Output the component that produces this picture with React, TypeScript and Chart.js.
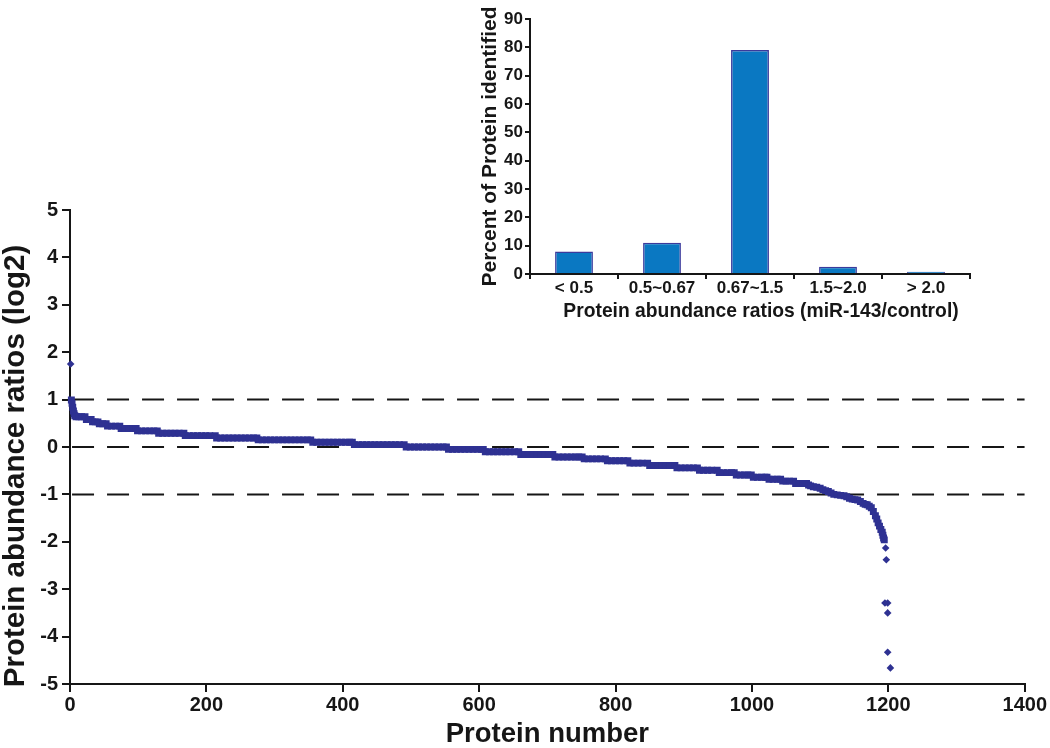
import React, { useEffect, useRef } from "react";
import { Chart, registerables } from "chart.js";

Chart.register(...registerables);

const FONT = "'Liberation Sans', Arial, Helvetica, sans-serif";
const INK = "#161616";
const POINT_COLOR = "#2E3192";
const BAR_FILL = "#0A78C2";
const BAR_EDGE = "#3B3A9C";

// ---- Main scatter: sorted protein abundance ratios (log2) ----
// dense, continuous part of the sorted curve
const bandProteinNumber: number[] = [
  2, 3, 4, 5, 6, 7,
  9, 13, 17, 22,
  24, 28, 31,
  33, 37, 41,
  43, 48, 53,
  55, 61, 67, 73,
  75, 81, 87, 92, 97,
  99, 105, 111, 117, 123, 128,
  130, 136, 142, 148, 154, 160, 167,
  169, 175, 181, 187, 193, 199, 205, 213,
  215, 221, 227, 233, 239, 245, 251, 257, 263, 269, 274,
  276, 282, 288, 294, 300, 306, 312, 318, 324, 330, 336, 342, 348, 353,
  356, 362, 368, 374, 380, 386, 392, 398, 404, 410, 414,
  417, 423, 429, 435, 441, 447, 453, 459, 465, 471, 477, 483, 490,
  493, 499, 505, 511, 517, 523, 529, 535, 541, 547, 552,
  555, 561, 567, 573, 579, 585, 591, 597, 603, 606,
  609, 615, 621, 627, 633, 639, 645, 652, 658,
  661, 667, 673, 679, 685, 691, 697, 703, 708,
  711, 717, 723, 729, 735, 741, 746, 751,
  754, 760, 766, 772, 778, 785,
  788, 794, 800, 806, 812, 818,
  821, 827, 833, 839, 847,
  850, 856, 862, 868, 874, 880, 887,
  890, 896, 902, 908, 914, 920,
  923, 929, 935, 941, 949,
  952, 958, 964, 970, 974,
  977, 983, 989, 994, 999,
  1002, 1008, 1014, 1019, 1022,
  1025, 1031, 1037, 1042,
  1045, 1050, 1055, 1061,
  1064, 1069, 1075, 1080,
  1083, 1086, 1090, 1095, 1100, 1104, 1108, 1112,
  1116, 1120, 1125, 1130, 1135, 1139, 1143, 1147,
  1151, 1155, 1159, 1163, 1166, 1169, 1172, 1175,
  1178, 1181, 1183, 1185, 1187, 1189, 1191, 1192, 1193, 1194,
];

const bandRatio: number[] = [
  0.99, 0.92, 0.84, 0.76, 0.7, 0.66,
  0.64, 0.64, 0.64, 0.64,
  0.58, 0.58, 0.58,
  0.53, 0.53, 0.53,
  0.49, 0.49, 0.49,
  0.44, 0.44, 0.44, 0.44,
  0.39, 0.39, 0.39, 0.39, 0.39,
  0.34, 0.34, 0.34, 0.34, 0.34, 0.34,
  0.29, 0.29, 0.29, 0.29, 0.29, 0.29, 0.29,
  0.24, 0.24, 0.24, 0.24, 0.24, 0.24, 0.24, 0.24,
  0.19, 0.19, 0.19, 0.19, 0.19, 0.19, 0.19, 0.19, 0.19, 0.19, 0.19,
  0.15, 0.15, 0.15, 0.15, 0.15, 0.15, 0.15, 0.15, 0.15, 0.15, 0.15, 0.15, 0.15, 0.15,
  0.1, 0.1, 0.1, 0.1, 0.1, 0.1, 0.1, 0.1, 0.1, 0.1, 0.1,
  0.05, 0.05, 0.05, 0.05, 0.05, 0.05, 0.05, 0.05, 0.05, 0.05, 0.05, 0.05, 0.05,
  0.0, 0.0, 0.0, 0.0, 0.0, 0.0, 0.0, 0.0, 0.0, 0.0, 0.0,
  -0.05, -0.05, -0.05, -0.05, -0.05, -0.05, -0.05, -0.05, -0.05, -0.05,
  -0.1, -0.1, -0.1, -0.1, -0.1, -0.1, -0.1, -0.1, -0.1,
  -0.16, -0.16, -0.16, -0.16, -0.16, -0.16, -0.16, -0.16, -0.16,
  -0.21, -0.21, -0.21, -0.21, -0.21, -0.21, -0.21, -0.21,
  -0.25, -0.25, -0.25, -0.25, -0.25, -0.25,
  -0.29, -0.29, -0.29, -0.29, -0.29, -0.29,
  -0.34, -0.34, -0.34, -0.34, -0.34,
  -0.39, -0.39, -0.39, -0.39, -0.39, -0.39, -0.39,
  -0.44, -0.44, -0.44, -0.44, -0.44, -0.44,
  -0.49, -0.49, -0.49, -0.49, -0.49,
  -0.54, -0.54, -0.54, -0.54, -0.54,
  -0.59, -0.59, -0.59, -0.59, -0.59,
  -0.64, -0.64, -0.64, -0.64, -0.64,
  -0.68, -0.68, -0.68, -0.68,
  -0.72, -0.72, -0.72, -0.72,
  -0.77, -0.77, -0.77, -0.77,
  -0.8, -0.82, -0.84, -0.85, -0.87, -0.9, -0.92, -0.94,
  -0.97, -1.0, -1.01, -1.02, -1.03, -1.05, -1.08, -1.1,
  -1.11, -1.12, -1.15, -1.19, -1.21, -1.22, -1.25, -1.28,
  -1.36, -1.45, -1.52, -1.6, -1.67, -1.74, -1.8, -1.86, -1.92, -1.96,
];

// isolated points at both ends of the curve
const isolatedProteinNumber: number[] = [1, 1196, 1197, 1195, 1199, 1199, 1199, 1203];
const isolatedRatio: number[] = [1.75, -2.13, -2.38, -3.29, -3.29, -3.5, -4.33, -4.66];

const thresholdLines: number[] = [1, 0, -1];
const xTickValues: number[] = [0, 200, 400, 600, 800, 1000, 1200, 1400];
const yTickValues: number[] = [-5, -4, -3, -2, -1, 0, 1, 2, 3, 4, 5];
const MAIN_X_TITLE = "Protein number";
const MAIN_Y_TITLE = "Protein abundance ratios (log2)";

// ---- Inset bar chart ----
const ratioBins: string[] = ["< 0.5", "0.5~0.67", "0.67~1.5", "1.5~2.0", "> 2.0"];
const percentIdentified: number[] = [7.9, 11.0, 79.1, 2.6, 0.8];
const insetYTicks: number[] = [0, 10, 20, 30, 40, 50, 60, 70, 80, 90];
const INSET_X_TITLE = "Protein abundance ratios (miR-143/control)";
const INSET_Y_TITLE = "Percent of Protein identified";

const bold = (size: number, lineHeight = 1.2) => ({ family: FONT, size, weight: "bold" as const, lineHeight });

const drawText = (ctx: CanvasRenderingContext2D, text: string, x: number, y: number, size: number, rotate: boolean) => {
  ctx.save();
  ctx.translate(x, y);
  if (rotate) ctx.rotate(-Math.PI / 2);
  ctx.font = `bold ${size}px ${FONT}`;
  ctx.fillStyle = INK;
  ctx.textAlign = "center";
  ctx.textBaseline = "middle";
  ctx.fillText(text, 0, 0);
  ctx.restore();
};

export default function App() {
  const mainRef = useRef<HTMLCanvasElement | null>(null);
  const insetRef = useRef<HTMLCanvasElement | null>(null);

  useEffect(() => {
    Chart.defaults.font.family = FONT;
    Chart.defaults.color = INK;

    const bandPoints = bandProteinNumber.map((n, i) => ({ x: n, y: bandRatio[i] }));
    const isolatedPoints = isolatedProteinNumber.map((n, i) => ({ x: n, y: isolatedRatio[i] }));

    const mainTitles = {
      id: "mainTitles",
      afterDraw(chart: any) {
        const { ctx, chartArea } = chart;
        drawText(ctx, MAIN_Y_TITLE, 16, chartArea.top + (chartArea.bottom - chartArea.top) / 2 + 19, 29.5, true);
      },
    };

    const main = new Chart(mainRef.current as HTMLCanvasElement, {
      type: "scatter",
      data: {
        datasets: [
          {
            type: "scatter",
            data: bandPoints,
            pointStyle: "rect",
            pointRadius: 4.9,
            pointHoverRadius: 4.9,
            backgroundColor: POINT_COLOR,
            borderColor: POINT_COLOR,
            borderWidth: 0,
            clip: 8,
            order: 0,
          } as any,
          {
            type: "scatter",
            data: isolatedPoints,
            pointStyle: "rectRot",
            pointRadius: 3.8,
            pointHoverRadius: 3.8,
            backgroundColor: POINT_COLOR,
            borderColor: POINT_COLOR,
            borderWidth: 0,
            clip: 8,
            order: 0,
          } as any,
          ...thresholdLines.map((t) => ({
            type: "line" as const,
            data: [
              { x: 3, y: t },
              { x: 1400, y: t },
            ],
            borderColor: INK,
            borderWidth: 2,
            borderDash: [22, 13],
            pointRadius: 0,
            fill: false,
            order: 1,
          })),
        ],
      },
      plugins: [mainTitles],
      options: {
        responsive: false,
        animation: false,
        events: [],
        layout: { autoPadding: false, padding: { top: 210, right: 17, left: 0, bottom: 0 } } as any,
        plugins: { legend: { display: false }, tooltip: { enabled: false } },
        scales: {
          x: {
            type: "linear",
            min: 0,
            max: 1400,
            afterBuildTicks: (s: any) => {
              s.ticks = xTickValues.map((v) => ({ value: v }));
            },
            afterFit: (s: any) => {
              s.height = 64;
            },
            grid: { drawOnChartArea: false, drawTicks: true, tickLength: 8, color: INK, lineWidth: 2 },
            border: { color: INK, width: 2 },
            ticks: { font: bold(20, 1), color: INK, padding: 3, maxRotation: 0, callback: (v: any) => String(v) },
            title: { display: true, text: MAIN_X_TITLE, font: bold(27.5, 1), color: INK, padding: { top: 0, bottom: 0 } },
          },
          y: {
            type: "linear",
            min: -5,
            max: 5,
            afterBuildTicks: (s: any) => {
              s.ticks = yTickValues.map((v) => ({ value: v }));
            },
            afterFit: (s: any) => {
              s.width = 70;
            },
            grid: { drawOnChartArea: false, drawTicks: true, tickLength: 8, color: INK, lineWidth: 2 },
            border: { color: INK, width: 2 },
            ticks: { font: bold(20, 1), color: INK, padding: 4, callback: (v: any) => String(v) },
            title: { display: false },
          },
        },
      },
    });

    const insetTitles = {
      id: "insetTitles",
      afterDraw(chart: any) {
        drawText(chart.ctx, INSET_X_TITLE, 291, 312, 19.3, false);
      },
    };

    const inset = new Chart(insetRef.current as HTMLCanvasElement, {
      type: "bar",
      data: {
        labels: ratioBins,
        datasets: [
          {
            data: percentIdentified,
            backgroundColor: BAR_FILL,
            borderColor: BAR_EDGE,
            borderWidth: 1.5,
            barPercentage: 0.43,
            categoryPercentage: 1,
          },
        ],
      },
      plugins: [insetTitles],
      options: {
        responsive: false,
        animation: false,
        events: [],
        layout: { autoPadding: false, padding: { top: 19, right: 80, left: 0, bottom: 0 } } as any,
        plugins: { legend: { display: false }, tooltip: { enabled: false } },
        scales: {
          x: {
            afterFit: (s: any) => {
              s.height = 56;
            },
            grid: { offset: true, drawOnChartArea: false, drawTicks: true, tickLength: 5, color: INK, lineWidth: 2 },
            border: { color: INK, width: 2 },
            ticks: { font: bold(17, 1), color: INK, padding: 1, maxRotation: 0, autoSkip: false },
            title: { display: false },
          },
          y: {
            min: 0,
            max: 90,
            afterBuildTicks: (s: any) => {
              s.ticks = insetYTicks.map((v) => ({ value: v }));
            },
            afterFit: (s: any) => {
              s.width = 60;
            },
            grid: { drawOnChartArea: false, drawTicks: true, tickLength: 5, color: INK, lineWidth: 2 },
            border: { color: INK, width: 2 },
            ticks: { font: bold(17, 1), color: INK, padding: 2 },
            title: {
              display: true,
              text: INSET_Y_TITLE,
              font: bold(21, 1),
              color: INK,
              padding: { top: 9.5, bottom: 0 },
            },
          },
        },
      },
    });

    return () => {
      main.destroy();
      inset.destroy();
    };
  }, []);

  return (
    <div style={{ position: "fixed", left: 0, top: 0, width: 1050, height: 748, background: "#ffffff", overflow: "hidden" }}>
      <canvas ref={mainRef} width={1050} height={748} style={{ position: "absolute", left: 0, top: 0, width: 1050, height: 748 }} />
      <canvas ref={insetRef} width={580} height={330} style={{ position: "absolute", left: 470, top: 0, width: 580, height: 330 }} />
    </div>
  );
}
